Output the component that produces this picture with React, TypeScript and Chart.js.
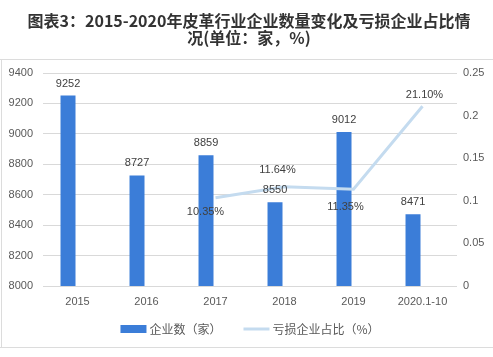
import { useEffect, useRef } from "react";
import { Chart, registerables } from "chart.js";

Chart.register(...registerables);

const titleLines = ["图表3：2015-2020年皮革行业企业数量变化及亏损企业占比情", "况(单位：家，%)"];
const categories = ["2015", "2016", "2017", "2018", "2019", "2020.1-10"];
const companyCounts = [9252, 8727, 8859, 8550, 9012, 8471];
const lossShare: (number | null)[] = [null, null, 0.1035, 0.1164, 0.1135, 0.211];
const seriesNames = ["企业数（家）", "亏损企业占比（%）"];
const leftTicks = { min: 8000, max: 9400, step: 200 };
const rightTicks = { min: 0, max: 0.25, step: 0.05 };

const BAR_COLOR = "#3b7dd8";
const LINE_COLOR = "#c4dbef";
const TEXT_COLOR = "#595959";
const LABEL_COLOR = "#404040";
const NUM_FONT = '"Liberation Sans", Arial, sans-serif';
const CJK_FONT = '"Noto Sans CJK SC", sans-serif';

// label placement for the line's data labels: [dx, dy]
const lineLabelOffsets: [number, number][] = [
  [0, 0], [0, 0], [-10, 14], [-7, -17], [-8, 18], [2, -11],
];

const decorPlugin = {
  id: "decor",
  beforeDraw(chart: any) {
    const { ctx, width } = chart;
    ctx.save();
    ctx.fillStyle = "#ffffff";
    ctx.fillRect(0, 0, chart.width, chart.height);
    ctx.strokeStyle = "#dcdcdc";
    ctx.lineWidth = 1;
    ctx.beginPath();
    ctx.moveTo(0, 59.5);
    ctx.lineTo(width, 59.5);
    ctx.moveTo(1.5, 59.5);
    ctx.lineTo(1.5, 347.5);
    ctx.moveTo(0, 347.5);
    ctx.lineTo(width, 347.5);
    ctx.stroke();
    ctx.fillStyle = "#333333";
    ctx.font = `bold 16px ${CJK_FONT}`;
    ctx.textAlign = "center";
    ctx.textBaseline = "middle";
    titleLines.forEach((t, i) => ctx.fillText(t, 249, 21 + i * 17));
    ctx.restore();
  },
  afterDatasetsDraw(chart: any) {
    const { ctx } = chart;
    ctx.save();
    ctx.font = `11px ${NUM_FONT}`;
    ctx.fillStyle = LABEL_COLOR;
    ctx.textAlign = "center";
    ctx.textBaseline = "middle";
    const barMeta = chart.getDatasetMeta(0);
    barMeta.data.forEach((el: any, i: number) => {
      ctx.fillText(String(companyCounts[i]), el.x, el.y - 12);
    });
    const lineMeta = chart.getDatasetMeta(2);
    lineMeta.data.forEach((el: any, i: number) => {
      const v = lossShare[i];
      if (v == null) return;
      const [dx, dy] = lineLabelOffsets[i];
      ctx.fillText((v * 100).toFixed(2) + "%", el.x + dx, el.y + dy);
    });
    ctx.restore();
  },
  afterDraw(chart: any) {
    const { ctx } = chart;
    ctx.save();
    ctx.font = `12px ${CJK_FONT}`;
    ctx.textBaseline = "middle";
    ctx.textAlign = "left";
    const w1 = ctx.measureText(seriesNames[0]).width;
    const w2 = ctx.measureText(seriesNames[1]).width;
    const sw = 26, gap = 3, between = 22;
    const total = sw + gap + w1 + between + sw + gap + w2;
    let x = 250 - total / 2;
    const y = 329;
    ctx.fillStyle = BAR_COLOR;
    ctx.fillRect(x, y - 4, sw, 8);
    x += sw + gap;
    ctx.fillStyle = TEXT_COLOR;
    ctx.fillText(seriesNames[0], x, y);
    x += w1 + between;
    ctx.strokeStyle = LINE_COLOR;
    ctx.lineWidth = 3;
    ctx.beginPath();
    ctx.moveTo(x, y);
    ctx.lineTo(x + sw, y);
    ctx.stroke();
    x += sw + gap;
    ctx.fillText(seriesNames[1], x, y);
    ctx.restore();
  },
};

export default function App() {
  const ref = useRef<HTMLCanvasElement | null>(null);
  useEffect(() => {
    if (!ref.current) return;
    const chart = new Chart(ref.current, {
      type: "bar",
      data: {
        labels: categories,
        datasets: [
          {
            type: "bar",
            label: seriesNames[0],
            data: companyCounts,
            backgroundColor: BAR_COLOR,
            yAxisID: "y",
            order: 1,
            categoryPercentage: 0.55,
            barPercentage: 0.79,
          },
          {
            type: "bar",
            label: "",
            data: categories.map(() => null),
            backgroundColor: "rgba(0,0,0,0)",
            yAxisID: "y",
            order: 1,
            categoryPercentage: 0.55,
            barPercentage: 0.79,
          },
          {
            type: "line",
            label: seriesNames[1],
            data: lossShare,
            borderColor: LINE_COLOR,
            backgroundColor: LINE_COLOR,
            borderWidth: 3,
            pointRadius: 0,
            tension: 0,
            yAxisID: "y1",
            order: 0,
          },
        ],
      } as any,
      options: {
        animation: false,
        responsive: false,
        maintainAspectRatio: false,
        layout: { padding: { top: 73, bottom: 46, left: 0, right: 0 } },
        plugins: {
          legend: { display: false },
          title: { display: false },
          tooltip: { enabled: false },
        },
        scales: {
          x: {
            grid: { display: false, drawTicks: false },
            border: { display: false },
            ticks: {
              color: TEXT_COLOR,
              font: { family: NUM_FONT, size: 11 },
              padding: 9,
              maxRotation: 0,
              autoSkip: false,
            },
            afterFit(scale: any) {
              scale.height = 25;
            },
          },
          y: {
            position: "left",
            min: leftTicks.min,
            max: leftTicks.max,
            grid: { color: "#d9d9d9", drawTicks: false },
            border: { display: false },
            ticks: {
              stepSize: leftTicks.step,
              color: TEXT_COLOR,
              font: { family: NUM_FONT, size: 11 },
              padding: 10,
              callback: (v: any) => String(v),
            },
            afterFit(scale: any) {
              scale.width = 43;
            },
          },
          y1: {
            position: "right",
            min: rightTicks.min,
            max: rightTicks.max,
            grid: { display: false, drawTicks: false },
            border: { display: false },
            ticks: {
              stepSize: rightTicks.step,
              color: TEXT_COLOR,
              font: { family: NUM_FONT, size: 11 },
              padding: 6,
              callback: (v: any) => String(+Number(v).toFixed(2)),
            },
            afterFit(scale: any) {
              scale.width = 36;
            },
          },
        },
      } as any,
      plugins: [decorPlugin],
    });
    return () => chart.destroy();
  }, []);
  return (
    <div style={{ position: "absolute", left: 0, top: 0, width: 493, height: 357 }}>
      <canvas ref={ref} width={493} height={357} style={{ display: "block", width: 493, height: 357 }} />
    </div>
  );
}
